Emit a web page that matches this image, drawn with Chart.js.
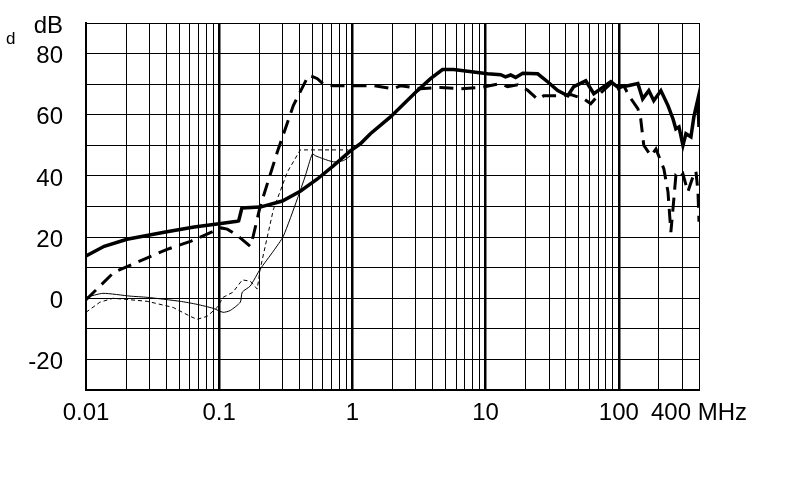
<!DOCTYPE html>
<html>
<head>
<meta charset="utf-8">
<script src="https://cdn.jsdelivr.net/npm/chart.js@4/dist/chart.umd.min.js"></script>
<style>
  html, body { margin: 0; padding: 0; background: #fff; }
  #wrap { width: 790px; height: 483px; }
</style>
</head>
<body>
<div id="wrap"><canvas id="chart"></canvas></div>
<script>
// frequency in MHz, level in dB

// thick solid
var s1Freq = [0.01, 0.0137, 0.0203, 0.0386, 0.0649, 0.0966, 0.1365, 0.14, 0.148, 0.203, 0.298, 0.406, 0.546, 0.719, 0.966, 1.148, 1.365, 1.93, 3.08, 3.86, 4.75, 5.74, 8.12, 10.35, 12.97, 14.1, 15.4, 16.8, 19, 24.6, 29.2, 34.8, 41.4, 45.9, 56.5, 64.9, 77.1, 87.1, 98.2, 117, 139, 151, 168, 183, 207, 234, 255, 268, 283, 303, 319, 348, 366, 393, 400];
var s1Db   = [13.8, 17, 19.3, 21.6, 23.3, 24.3, 25.2, 25.3, 29.5, 29.8, 31.8, 35, 39, 43.3, 48.2, 50.5, 53.8, 59.3, 67.9, 71.8, 74.8, 74.8, 74, 73.4, 73.1, 72.4, 73, 72.2, 73.6, 73.4, 70.8, 67.9, 66.2, 69.2, 71.1, 66.9, 69.2, 70.8, 69, 69.5, 70.2, 65.2, 67.9, 64.6, 67.9, 63, 58.7, 55.4, 56, 50, 53.8, 52.8, 59.3, 65.2, 56];

// thick dashed
var s2Freq = [0.01, 0.0162, 0.0242, 0.0406, 0.0616, 0.0917, 0.1035, 0.115, 0.139, 0.171, 0.18, 0.203, 0.273, 0.36, 0.467, 0.509, 0.546, 0.605, 0.719, 0.966, 1.44, 2.03, 2.3, 3.25, 4.59, 6.49, 9.17, 12.97, 14.6, 17.4, 20.7, 24.6, 27.3, 34.8, 43.6, 54.6, 61.6, 69.5, 87.1, 98.2, 109, 119, 139, 146, 154, 174, 190, 218, 234, 246, 259, 268, 283, 303, 330, 360, 379, 393, 400];
var s2Db   = [-0.5, 8.5, 11.8, 16, 18.7, 22, 23, 22.6, 20.3, 17, 20.3, 30, 47.8, 63, 72.8, 72.4, 71.8, 70, 69.5, 69.5, 69.5, 68.5, 69.5, 68.5, 68.9, 68.5, 68.9, 70.2, 69.2, 69.8, 68, 65, 66.2, 66.2, 66.6, 65.2, 63.6, 66.2, 70.2, 68.5, 69.5, 66.2, 62, 58.7, 50, 46.6, 48.8, 42.3, 34.8, 21.6, 32.5, 40, 39, 40.6, 34.8, 39.7, 41.6, 34.8, 25];

// thin solid
var s3Freq = [0.01, 0.0134, 0.0214, 0.0288, 0.0509, 0.0683, 0.0902, 0.107, 0.121, 0.144, 0.149, 0.171, 0.203, 0.255, 0.303, 0.386, 0.443, 0.5, 0.527, 0.605, 0.719, 0.855, 0.966];
var s3Db   = [0.3, 1.6, 0.7, 0.3, -1, -2, -3.3, -4.6, -4, -1.3, 2, 4, 9.5, 15.4, 20.3, 32.5, 40, 47.2, 46.6, 45.6, 44.6, 45, 46.6];

// thin dashed
var s4Freq = [0.01, 0.0127, 0.016, 0.0288, 0.0451, 0.0605, 0.0683, 0.0812, 0.0966, 0.107, 0.127, 0.149, 0.171, 0.193, 0.203, 0.255, 0.325, 0.406, 0.933];
var s4Db   = [-4.6, -1.3, 0, -1, -3, -5.9, -6.9, -5.9, -3, 0.3, 2, 6, 5.6, 3, 9.5, 29, 41.3, 48.5, 48.5];

var xLabels = { 0.01: '0.01', 0.1: '0.1', 1: '1', 10: '10', 100: '100', 400: '400 MHz' };
var yLabels = { 90: 'dB', 80: '80', 60: '60', 40: '40', 20: '20', 0: '0', '-20': '-20' };
var yGrid = [-30, -20, -10, 0, 10, 20, 30, 40, 50, 60, 70, 80, 90];
var decades = [0.01, 0.1, 1, 10, 100];

// vertical grid: 1..9 in every decade, up to 400 MHz
var gridFreq = [];
decades.forEach(function (d) {
  for (var m = 1; m <= 9; m++) {
    var v = +(m * d).toPrecision(3);
    if (v <= 400) gridFreq.push(v);
  }
});

function pts(fx, dy) {
  return fx.map(function (f, i) { return { x: f, y: dy[i] }; });
}

function isDecade(v) {
  for (var i = 1; i < decades.length; i++) {
    if (Math.abs(v - decades[i]) < decades[i] * 1e-6) return true;
  }
  return false;
}

function xLabel(v) {
  for (var k in xLabels) {
    if (Math.abs(v - parseFloat(k)) < parseFloat(k) * 1e-6) return xLabels[k];
  }
  return '';
}

var dLetter = {
  id: 'dLetter',
  afterDraw: function (chart) {
    var ctx = chart.ctx;
    ctx.save();
    ctx.fillStyle = '#000';
    ctx.font = '17px "Liberation Sans", Arial, sans-serif';
    ctx.textBaseline = 'alphabetic';
    ctx.fillText('d', 6, 44);
    ctx.restore();
  }
};

const data = {
  datasets: [
    { data: pts(s1Freq, s1Db), borderColor: '#000', borderWidth: 3.5, pointRadius: 0, tension: 0 },
    { data: pts(s2Freq, s2Db), borderColor: '#000', borderWidth: 3, borderDash: [14, 8], pointRadius: 0, tension: 0 },
    { data: pts(s3Freq, s3Db), borderColor: '#000', borderWidth: 1, pointRadius: 0, tension: 0.2 },
    { data: pts(s4Freq, s4Db), borderColor: '#000', borderWidth: 1, borderDash: [4, 3], pointRadius: 0, tension: 0 }
  ]
};

const tickFont = { family: '"Liberation Sans", Arial, sans-serif', size: 24 };

const config = {
  type: 'line',
  data: data,
  options: {
    responsive: true,
    maintainAspectRatio: false,
    animation: false,
    layout: { padding: { top: 23, right: 91, left: 0, bottom: 0 } },
    plugins: { legend: { display: false }, tooltip: { enabled: false } },
    scales: {
      x: {
        type: 'logarithmic',
        min: 0.01,
        max: 400,
        afterBuildTicks: function (scale) {
          scale.ticks = gridFreq.map(function (v) { return { value: v }; });
        },
        afterFit: function (scale) { scale.height = 93; },
        border: { color: '#000', width: 2 },
        grid: {
          color: '#000',
          drawTicks: false,
          lineWidth: function (ctx) {
            return ctx.tick && isDecade(ctx.tick.value) ? 2.5 : 1;
          }
        },
        ticks: {
          autoSkip: false,
          maxRotation: 0,
          padding: 9,
          color: '#000',
          font: tickFont,
          callback: function (value) { return xLabel(value); }
        }
      },
      y: {
        min: -30,
        max: 90,
        afterBuildTicks: function (scale) {
          scale.ticks = yGrid.map(function (v) { return { value: v }; });
        },
        afterFit: function (scale) { scale.width = 86; },
        border: { color: '#000', width: 2 },
        grid: { color: '#000', lineWidth: 1, drawTicks: true, tickLength: 23, tickColor: 'rgba(0,0,0,0)' },
        ticks: {
          autoSkip: false,
          padding: 0,
          labelOffset: 3,
          color: '#000',
          font: tickFont,
          callback: function (value) {
            return yLabels[value] !== undefined ? yLabels[value] : '';
          }
        }
      }
    }
  },
  plugins: [dLetter]
};

const myChart = new Chart(document.getElementById('chart'), config);
</script>
</body>
</html>
